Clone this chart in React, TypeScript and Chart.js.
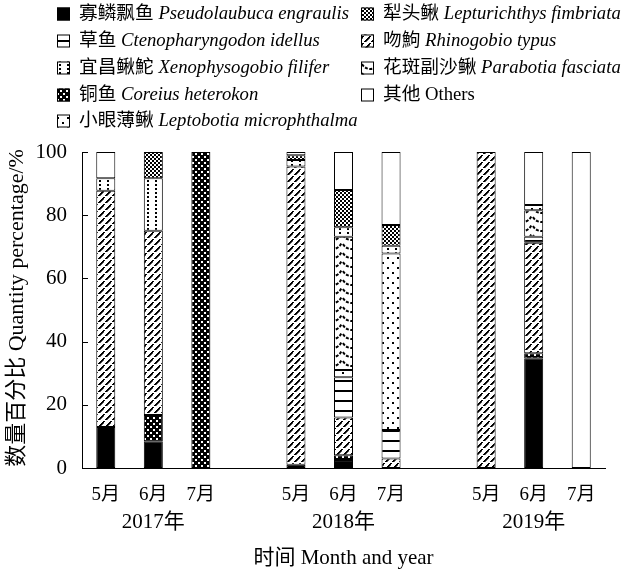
import React, { useEffect, useRef } from "react";
import { Chart, registerables } from "chart.js";

Chart.register(...registerables);

// Month slots per survey year; empty slots separate the years.
const slots = ["5月", "6月", "7月", "", "5月", "6月", "7月", "", "5月", "6月", "7月"];
const years = ["2017年", "2018年", "2019年"];
const yearSlots = [1, 5, 9];
const yTicks = [0, 20, 40, 60, 80, 100];

// Quantity percentage (%) of each species per month
const pseudolaubuca = [13, 8.5, null, null, 1, 2.5, null, null, null, 34.7, null];
const coreius = [null, 8.3, 100, null, null, 1.5, null, null, null, 1.6, null];
const rhinogobio = [74.7, 58.3, null, null, 94.4, 12, 3, null, 100, 35, null];
const ctenopharyngodon = [null, null, null, null, null, 12.7, 9, null, null, 1.9, null];
const leptobotia = [null, null, null, null, null, 2.3, 55.9, null, null, null, null];
const parabotia = [null, null, null, null, null, 42.2, null, null, null, 8.4, null];
const xenophysogobio = [4, 16.6, null, null, 2.1, 3, 2.4, null, null, 1.6, null];
const lepturichthys = [null, 8.3, null, null, 1.5, 11.8, 6.6, null, null, null, null];
const others = [8.3, null, null, null, 1, 12, 23.1, null, null, 16.8, 100];

const FONT = '"Liberation Serif", "Noto Sans CJK SC", serif';

type Fill = string | CanvasPattern;

function tile(w: number, h: number, draw: (g: CanvasRenderingContext2D) => void): CanvasPattern {
  const c = document.createElement("canvas");
  c.width = w;
  c.height = h;
  const g = c.getContext("2d")!;
  g.fillStyle = "#fff";
  g.fillRect(0, 0, w, h);
  g.fillStyle = "#000";
  g.strokeStyle = "#000";
  draw(g);
  return g.createPattern(c, "repeat")!;
}

function makeFills() {
  return {
    solid: "#000" as Fill,
    hLines: tile(8, 10, (g) => g.fillRect(0, 0, 8, 2)),
    vDots: tile(8, 8, (g) => {
      g.fillRect(3, 0, 2, 2);
      g.fillRect(3, 4, 2, 2);
    }),
    denseCheck: tile(6, 6, (g) => {
      g.fillRect(0, 0, 6, 6);
      g.fillStyle = "#fff";
      g.fillRect(0, 0, 2, 2);
      g.fillRect(3, 3, 2, 2);
    }),
    check: tile(4, 4, (g) => {
      g.fillRect(0, 0, 2, 2);
      g.fillRect(2, 2, 2, 2);
    }),
    dots: tile(10, 10, (g) => {
      g.fillRect(2, 2, 2, 2);
      g.fillRect(7, 7, 2, 2);
    }),
    // dashed diagonal hatch
    diag: tile(7, 7, (g) => {
      for (let i = 0; i < 6; i++) {
        g.fillRect(i, 6 - i, 2, i === 5 ? 1 : 1.6);
      }
    }),
    // scalloped arcs
    scallop: tile(19, 9, (g) => {
      g.lineWidth = 2;
      g.setLineDash([3, 1.5]);
      g.beginPath();
      g.arc(9.5, -3.7, 9.7, 0.45, Math.PI - 0.45);
      g.stroke();
    }),
    white: "#fff" as Fill,
  };
}

export default function App() {
  const ref = useRef<HTMLCanvasElement>(null);

  useEffect(() => {
    const canvas = ref.current!;
    const F = makeFills();

    // stacking order, bottom to top
    const series = [
      { zh: "寡鳞飘鱼", la: "Pseudolaubuca engraulis", data: pseudolaubuca, fill: F.solid },
      { zh: "铜鱼", la: "Coreius heterokon", data: coreius, fill: F.denseCheck },
      { zh: "吻鮈", la: "Rhinogobio typus", data: rhinogobio, fill: F.diag },
      { zh: "草鱼", la: "Ctenopharyngodon idellus", data: ctenopharyngodon, fill: F.hLines },
      { zh: "小眼薄鳅", la: "Leptobotia microphthalma", data: leptobotia, fill: F.dots },
      { zh: "花斑副沙鳅", la: "Parabotia fasciata", data: parabotia, fill: F.scallop },
      { zh: "宜昌鳅鮀", la: "Xenophysogobio filifer", data: xenophysogobio, fill: F.vDots },
      { zh: "犁头鳅", la: "Lepturichthys fimbriata", data: lepturichthys, fill: F.check },
      { zh: "其他", la: "Others", data: others, fill: F.white },
    ];

    // legend layout: two columns, filled top to bottom
    const legendCols = [
      ["寡鳞飘鱼", "草鱼", "宜昌鳅鮀", "铜鱼", "小眼薄鳅"],
      ["犁头鳅", "吻鮈", "花斑副沙鳅", "其他"],
    ];
    const legendX = [57, 361];
    const legendY = [14, 41, 68, 95, 121];
    const LEG = 18.7;

    const extras = {
      id: "extras",
      afterDraw(chart: any) {
        const { ctx, chartArea, scales } = chart;
        const xs = scales.x;
        const ys = scales.y;
        ctx.save();
        ctx.strokeStyle = "#000";
        ctx.lineWidth = 1;
        // inward tick marks on the value axis
        yTicks.forEach((v) => {
          const y = Math.round(ys.getPixelForValue(v)) + 0.5;
          ctx.beginPath();
          ctx.moveTo(chartArea.left, y);
          ctx.lineTo(chartArea.left + 6, y);
          ctx.stroke();
        });
        ctx.fillStyle = "#000";
        ctx.textAlign = "center";
        ctx.textBaseline = "middle";
        // year labels under each group of months
        ctx.font = `21px ${FONT}`;
        years.forEach((yr, i) => {
          ctx.fillText(yr, xs.getPixelForValue(yearSlots[i]), 522);
        });
        // axis titles
        ctx.fillText("时间 Month and year", (chartArea.left + chartArea.right) / 2, 558);
        ctx.save();
        ctx.font = `22px ${FONT}`;
        ctx.translate(17, 308);
        ctx.rotate(-Math.PI / 2);
        ctx.fillText("数量百分比 Quantity percentage/%", 0, 0);
        ctx.restore();

        // legend
        ctx.textAlign = "left";
        legendCols.forEach((col, ci) => {
          col.forEach((zh, ri) => {
            const s = series.find((d) => d.zh === zh)!;
            const x = legendX[ci];
            const cy = legendY[ri];
            ctx.fillStyle = s.fill as any;
            ctx.fillRect(x, cy - 6.5, 13, 13);
            ctx.strokeRect(x + 0.5, cy - 6, 12, 12);
            ctx.fillStyle = "#000";
            ctx.font = `${LEG}px ${FONT}`;
            const tx = x + 22;
            ctx.fillText(s.zh, tx, cy);
            const w = ctx.measureText(s.zh + " ").width;
            ctx.font = s.la === "Others" ? `${LEG}px ${FONT}` : `italic ${LEG}px ${FONT}`;
            ctx.fillText(s.la, tx + w, cy);
          });
        });
        ctx.restore();
      },
    };

    const chart = new Chart(canvas, {
      type: "bar",
      data: {
        labels: slots,
        datasets: series.map((s) => ({
          label: `${s.zh} ${s.la}`,
          data: s.data as any,
          backgroundColor: s.fill as any,
          borderColor: "#000",
          borderWidth: 1,
          borderSkipped: false,
          barPercentage: 0.4,
          categoryPercentage: 1,
        })),
      },
      options: {
        animation: false,
        responsive: true,
        maintainAspectRatio: false,
        layout: { padding: { top: 152, right: 20, left: 0, bottom: 0 } },
        plugins: { legend: { display: false }, tooltip: { enabled: false } },
        scales: {
          x: {
            stacked: true,
            grid: { display: false },
            border: { display: true, color: "#000", width: 1 },
            ticks: {
              autoSkip: false,
              maxRotation: 0,
              padding: 8,
              color: "#000",
              font: { family: FONT, size: 19 },
            },
            afterFit: (scale: any) => {
              scale.height = 106;
            },
          },
          y: {
            stacked: true,
            min: 0,
            max: 100,
            grid: { display: false },
            border: { display: true, color: "#000", width: 1 },
            ticks: {
              stepSize: 20,
              padding: 7,
              color: "#000",
              font: { family: FONT, size: 21 },
            },
            afterFit: (scale: any) => {
              scale.width = 82;
            },
          },
        },
      },
      plugins: [extras],
    });
    return () => chart.destroy();
  }, []);

  return (
    <div style={{ position: "absolute", left: 0, top: 0, width: 625, height: 574 }}>
      <canvas ref={ref} />
    </div>
  );
}
